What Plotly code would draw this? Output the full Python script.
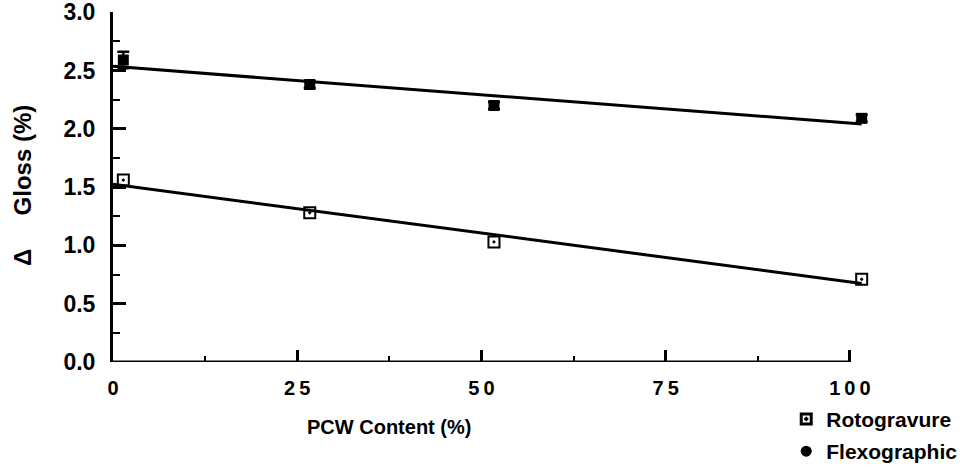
import numpy as np
import plotly.graph_objects as go

# ---- data ----
pcw_content = [1.4, 26.7, 51.7, 101.6]          # PCW Content (%)
roto_gloss = [1.56, 1.28, 1.03, 0.71]           # Rotogravure  ΔGloss (%)
flexo_gloss = [2.59, 2.38, 2.20, 2.09]          # Flexographic ΔGloss (%)
flexo_err = [0.07, 0.03, 0.03, 0.03]
x_ticks = [0, 25, 50, 75, 100]
x_ticklabels = ["0", "2\u20095", "5\u20090", "7\u20095", "1\u20090\u20090"]
y_ticks = [0.0, 0.5, 1.0, 1.5, 2.0, 2.5, 3.0]
y_ticklabels = ["0.0", "0.5", "1.0", "1.5", "2.0", "2.5", "3.0"]

FONT = "Liberation Sans, Arial, sans-serif"

# linear fits through each series
fit_x = [0, max(pcw_content)]
roto_fit = np.poly1d(np.polyfit(pcw_content, roto_gloss, 1))
flexo_fit = np.poly1d(np.polyfit(pcw_content, flexo_gloss, 1))

fig = go.Figure()

fig.add_trace(go.Scatter(x=fit_x, y=[roto_fit(v) for v in fit_x], mode="lines",
                         line=dict(color="black", width=3), showlegend=False,
                         cliponaxis=False, hoverinfo="skip"))
fig.add_trace(go.Scatter(x=fit_x, y=[flexo_fit(v) for v in fit_x], mode="lines",
                         line=dict(color="black", width=3), showlegend=False,
                         cliponaxis=False, hoverinfo="skip"))

fig.add_trace(go.Scatter(x=pcw_content, y=roto_gloss, mode="markers",
                         marker=dict(symbol="square-open-dot", size=11, color="black",
                                     line=dict(width=2, color="black")),
                         showlegend=False, cliponaxis=False))
fig.add_trace(go.Scatter(x=pcw_content, y=flexo_gloss, mode="markers",
                         marker=dict(symbol="square", size=11, color="black"),
                         error_y=dict(type="data", array=flexo_err, color="black",
                                      thickness=2.5, width=6),
                         showlegend=False, cliponaxis=False))

# legend entries
fig.add_trace(go.Scatter(x=[None], y=[None], mode="markers", name="Rotogravure",
                         legendgroup="a",
                         marker=dict(symbol="square-open-dot", size=10, color="black",
                                     line=dict(width=3, color="black"))))
fig.add_trace(go.Scatter(x=[None], y=[None], mode="markers", name="Flexographic",
                         legendgroup="b",
                         marker=dict(symbol="circle", size=11, color="black")))

# x axis line from 0 to 100 only
fig.add_shape(type="line", xref="x", yref="y", x0=0, x1=100, y0=0, y1=0,
              line=dict(color="black", width=3), layer="above")

fig.update_layout(
    width=976, height=474,
    margin=dict(l=113, r=104, t=12, b=112, autoexpand=False),
    plot_bgcolor="white", paper_bgcolor="white",
    font=dict(family=FONT, color="black"),
    legend=dict(x=0.887, y=-0.105, xanchor="left", yanchor="top",
                font=dict(size=21, family=FONT, weight="bold"),
                tracegroupgap=2, bgcolor="rgba(0,0,0,0)"),
    xaxis=dict(range=[0, 103], showgrid=False, zeroline=False, showline=False,
               tickmode="array", tickvals=x_ticks, ticktext=x_ticklabels,
               ticks="inside", ticklen=12, tickwidth=2.5, tickcolor="black",
               minor=dict(ticks="inside", ticklen=6, tickwidth=2, tickcolor="black",
                          tickvals=[12.5, 37.5, 62.5, 87.5]),
               tickfont=dict(size=20, family=FONT, weight="bold"),
               ticklabelstandoff=12, ticklabeloverflow="allow"),
    yaxis=dict(range=[0, 3.002], showgrid=False, zeroline=False, showline=True,
               linecolor="black", linewidth=3,
               tickmode="array", tickvals=y_ticks, ticktext=y_ticklabels,
               ticks="inside", ticklen=13, tickwidth=2.5, tickcolor="black",
               minor=dict(ticks="inside", ticklen=7, tickwidth=2, tickcolor="black",
                          tickvals=[0.25, 0.75, 1.25, 1.75, 2.25, 2.75]),
               tickfont=dict(size=23, family=FONT, weight="bold"),
               ticklabelstandoff=10, ticklabeloverflow="allow"),
    annotations=[
        dict(text="PCW Content (%)", xref="paper", yref="paper",
             x=(389 - 113) / 759, y=(362 - 427) / 350, xanchor="center", yanchor="middle",
             showarrow=False, font=dict(size=20, family=FONT, weight="bold")),
        dict(text="\u0394\u00a0\u00a0\u00a0\u00a0\u00a0Gloss (%)", xref="paper", yref="paper",
             x=(22 - 113) / 759, y=(362 - 186) / 350, xanchor="center", yanchor="middle",
             textangle=-90, showarrow=False,
             font=dict(size=24, family=FONT, weight="bold")),
    ],
)

fig.write_html("out.html")
